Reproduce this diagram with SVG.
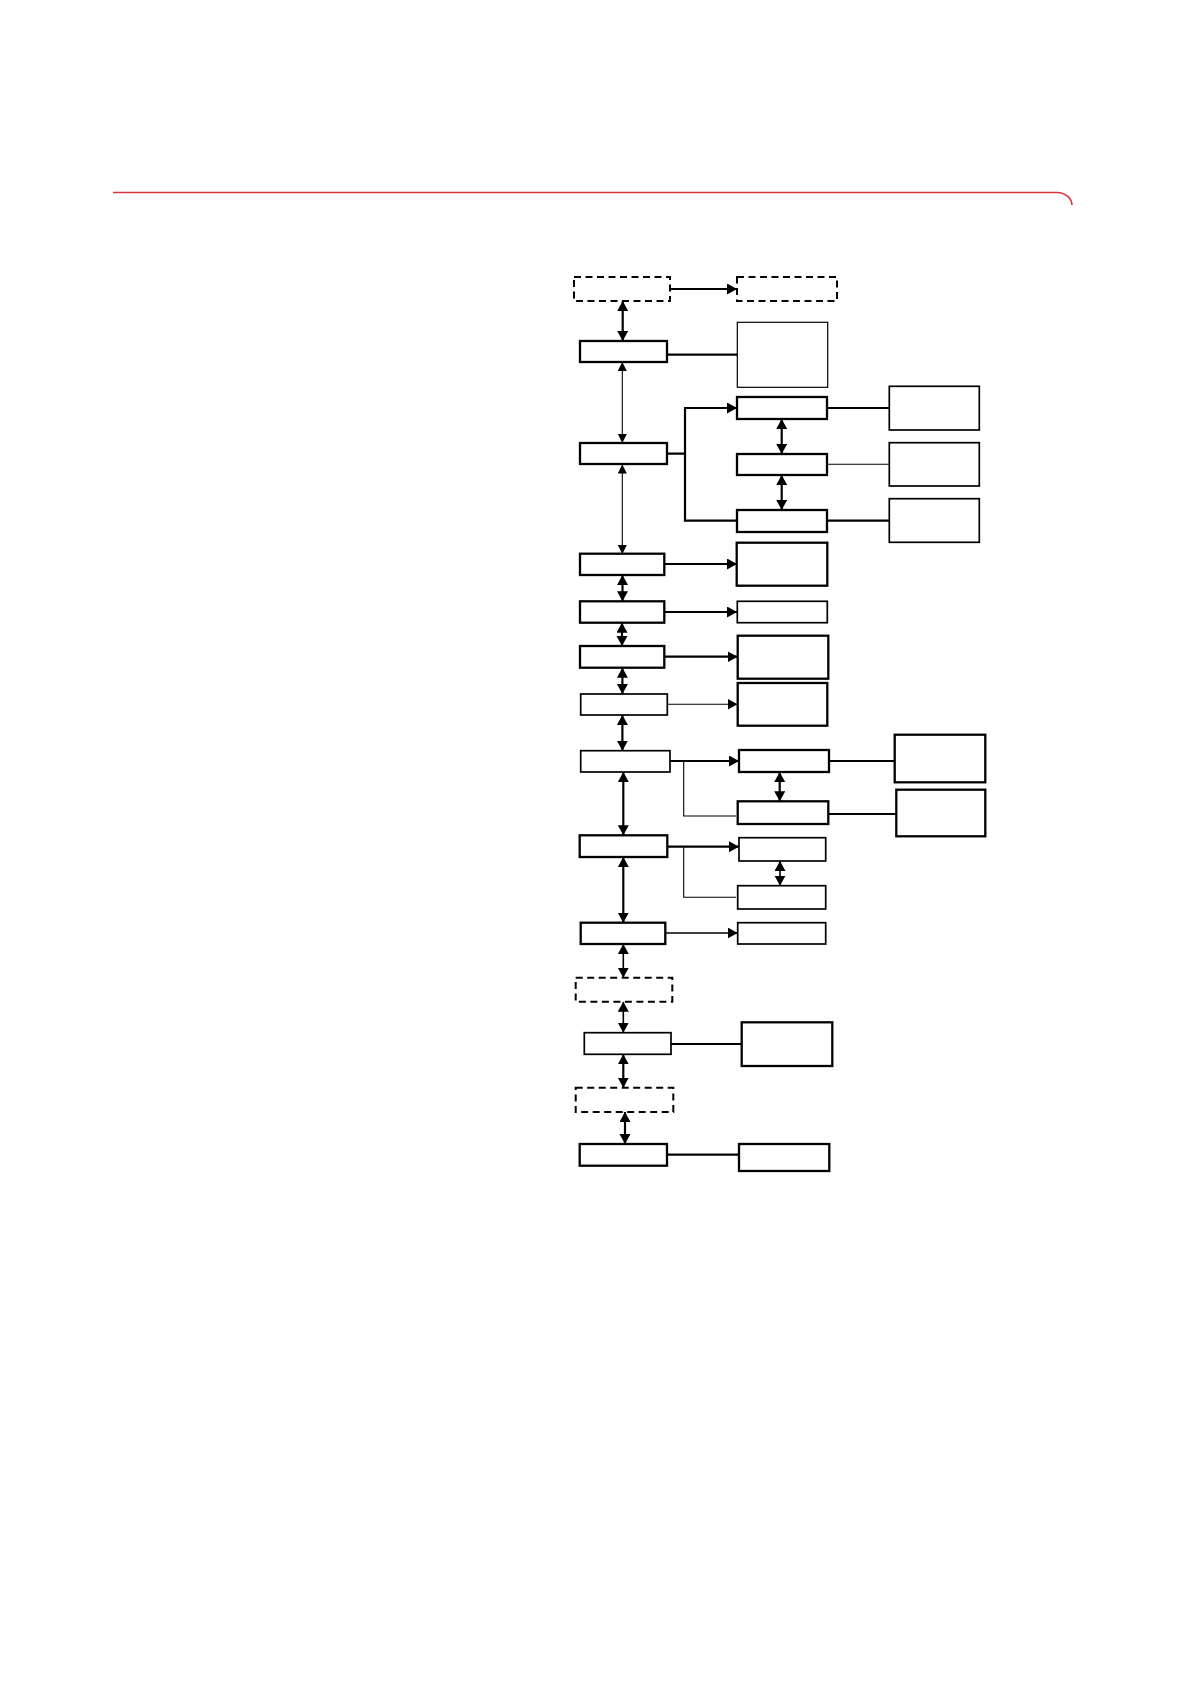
<svg xmlns="http://www.w3.org/2000/svg" width="1190" height="1684" viewBox="0 0 1190 1684">
<style>
.b{fill:#fff;stroke:#000;stroke-width:2.3}
.m{fill:#fff;stroke:#000;stroke-width:1.7}
.t{fill:#fff;stroke:#000;stroke-width:1.2}
.d{fill:#fff;stroke:#000;stroke-width:2;stroke-dasharray:7 4.5}
.c{fill:none;stroke:#000;stroke-width:2.2}
.cm{fill:none;stroke:#000;stroke-width:1.6}
.ct{fill:none;stroke:#000;stroke-width:1.1}
.a{marker-end:url(#ah)}
.aa{marker-start:url(#ah);marker-end:url(#ah)}
.as{marker-end:url(#ahs)}
.aas{marker-start:url(#ahs);marker-end:url(#ahs)}
</style>
<defs>
<marker id="ah" markerUnits="userSpaceOnUse" markerWidth="12" markerHeight="12" refX="10" refY="5.5" orient="auto-start-reverse" viewBox="0 0 12 12">
<path d="M0,0 L10,5.5 L0,11 z" fill="#000"/>
</marker>
<marker id="ahs" markerUnits="userSpaceOnUse" markerWidth="11" markerHeight="10" refX="9" refY="4.5" orient="auto-start-reverse" viewBox="0 0 11 10">
<path d="M0,0 L9,4.5 L0,9 z" fill="#000"/>
</marker>
</defs>
<rect width="1190" height="1684" fill="#fff"/>
<path id="header-rule" d="M113,192.5 H1057 A15,13 0 0 1 1072,205" fill="none" stroke="#d9333f" stroke-width="1.6"/>

<g id="connectors">
<line class="c a" x1="670" y1="289" x2="737" y2="289"/>
<line class="c aa" x1="622.7" y1="301" x2="622.7" y2="341"/>
<line class="c" x1="667" y1="354.7" x2="737" y2="354.7"/>
<line class="ct aas" x1="622.3" y1="362" x2="622.3" y2="443"/>
<polyline class="c a" points="667,453.7 685,453.7 685,408 737,408"/>
<polyline class="c" points="685,453.7 685,520.7 737,520.7"/>
<line class="c" x1="827" y1="408" x2="889" y2="408"/>
<line class="ct" x1="827" y1="464.3" x2="889" y2="464.3"/>
<line class="c" x1="827" y1="520.7" x2="889" y2="520.7"/>
<line class="c aa" x1="781.7" y1="419" x2="781.7" y2="454"/>
<line class="c aa" x1="781.7" y1="475" x2="781.7" y2="510"/>
<line class="ct aas" x1="622.3" y1="464.5" x2="622.3" y2="554"/>
<line class="c a" x1="664" y1="564" x2="737" y2="564"/>
<line class="c aa" x1="622.5" y1="575" x2="622.5" y2="601.3"/>
<line class="c a" x1="664" y1="612" x2="737" y2="612"/>
<line class="c aa" x1="622" y1="622.7" x2="622" y2="646"/>
<line class="c a" x1="664" y1="656.7" x2="737.5" y2="656.7"/>
<line class="c aa" x1="622.4" y1="667.7" x2="622.4" y2="694"/>
<line class="ct a" x1="667" y1="704.3" x2="737.5" y2="704.3"/>
<line class="c aa" x1="622.4" y1="715" x2="622.4" y2="750.7"/>
<line class="c a" x1="669" y1="761" x2="739" y2="761"/>
<polyline class="ct" points="683.7,761 683.7,816 736,816"/>
<line class="c" x1="829" y1="761" x2="894.7" y2="761"/>
<line class="c" x1="828.3" y1="814" x2="896.3" y2="814"/>
<line class="c aa" x1="779.7" y1="772" x2="779.7" y2="801.3"/>
<line class="c aa" x1="623.3" y1="772" x2="623.3" y2="835.3"/>
<line class="c a" x1="667" y1="846.7" x2="739" y2="846.7"/>
<polyline class="ct" points="683.7,846.7 683.7,897.3 736,897.3"/>
<line class="cm aa" x1="780" y1="861" x2="780" y2="885.7"/>
<line class="c aa" x1="623.3" y1="857" x2="623.3" y2="922.7"/>
<line class="cm a" x1="665" y1="933" x2="737.7" y2="933"/>
<line class="cm aa" x1="623.3" y1="944" x2="623.3" y2="977.7"/>
<line class="cm aa" x1="623.3" y1="1001.7" x2="623.3" y2="1032.7"/>
<line class="c" x1="671" y1="1044" x2="741.7" y2="1044"/>
<line class="c aa" x1="623.3" y1="1054.3" x2="623.3" y2="1087.7"/>
<line class="c aa" x1="625" y1="1112" x2="625" y2="1144"/>
<line class="c" x1="667" y1="1154.7" x2="739" y2="1154.7"/>
</g>

<g id="n-top-dash"><rect class="d" x="574" y="277" width="96" height="24"/></g>
<g id="n-top-dash-right"><rect class="d" x="737" y="277" width="100" height="24"/></g>
<g id="n1"><rect class="b" x="580" y="341" width="87" height="21"/></g>
<g id="n1-side"><rect class="t" x="737.3" y="322.3" width="90.4" height="65"/></g>
<g id="n2"><rect class="b" x="580" y="443" width="87" height="21"/></g>
<g id="c1"><rect class="b" x="737" y="397" width="90" height="22"/></g>
<g id="c2"><rect class="b" x="737" y="454" width="90" height="21"/></g>
<g id="c3"><rect class="b" x="737" y="510" width="90" height="22"/></g>
<g id="d1"><rect class="m" x="889.3" y="386.3" width="90" height="43.7"/></g>
<g id="d2"><rect class="m" x="889.3" y="442.7" width="90" height="43.3"/></g>
<g id="d3"><rect class="m" x="889.3" y="498.7" width="90" height="43.6"/></g>
<g id="n3"><rect class="b" x="580" y="553.7" width="84.3" height="21.3"/></g>
<g id="r2"><rect class="b" x="736.7" y="542.7" width="90.6" height="43"/></g>
<g id="n4"><rect class="b" x="580" y="601.3" width="84.3" height="21.4"/></g>
<g id="r3"><rect class="m" x="737.3" y="601.3" width="90" height="21.4"/></g>
<g id="n5"><rect class="b" x="580" y="646" width="84.3" height="21.7"/></g>
<g id="r4"><rect class="b" x="737.7" y="635.7" width="90.6" height="43"/></g>
<g id="n6"><rect class="m" x="580.7" y="694" width="86.6" height="21"/></g>
<g id="r5"><rect class="b" x="737.7" y="683" width="89.6" height="42.7"/></g>
<g id="n7"><rect class="m" x="580.7" y="750.7" width="89.3" height="21.3"/></g>
<g id="e1"><rect class="b" x="739" y="750" width="90" height="22"/></g>
<g id="e2"><rect class="b" x="737.7" y="801.3" width="90.6" height="22.7"/></g>
<g id="f1"><rect class="b" x="894.7" y="734.7" width="90.6" height="47.6"/></g>
<g id="f2"><rect class="b" x="896.3" y="789.7" width="89" height="46.6"/></g>
<g id="n8"><rect class="b" x="579.7" y="835.3" width="87.6" height="21.7"/></g>
<g id="g1"><rect class="m" x="739" y="837.7" width="86.7" height="23.3"/></g>
<g id="g2"><rect class="m" x="737.7" y="885.7" width="88" height="23.3"/></g>
<g id="n9"><rect class="b" x="580.7" y="922.7" width="84.6" height="21.3"/></g>
<g id="h"><rect class="m" x="737.7" y="922.7" width="88" height="21.3"/></g>
<g id="n-dash2"><rect class="d" x="575.7" y="977.7" width="96.6" height="24"/></g>
<g id="n10"><rect class="m" x="584.3" y="1032.7" width="86.7" height="21.6"/></g>
<g id="i"><rect class="b" x="741.7" y="1022.3" width="90.6" height="43.7"/></g>
<g id="n-dash3"><rect class="d" x="575.7" y="1087.7" width="97.6" height="24.3"/></g>
<g id="n11"><rect class="b" x="579.7" y="1144" width="87.3" height="21.7"/></g>
<g id="j"><rect class="b" x="739" y="1144" width="90.3" height="27"/></g>
</svg>
